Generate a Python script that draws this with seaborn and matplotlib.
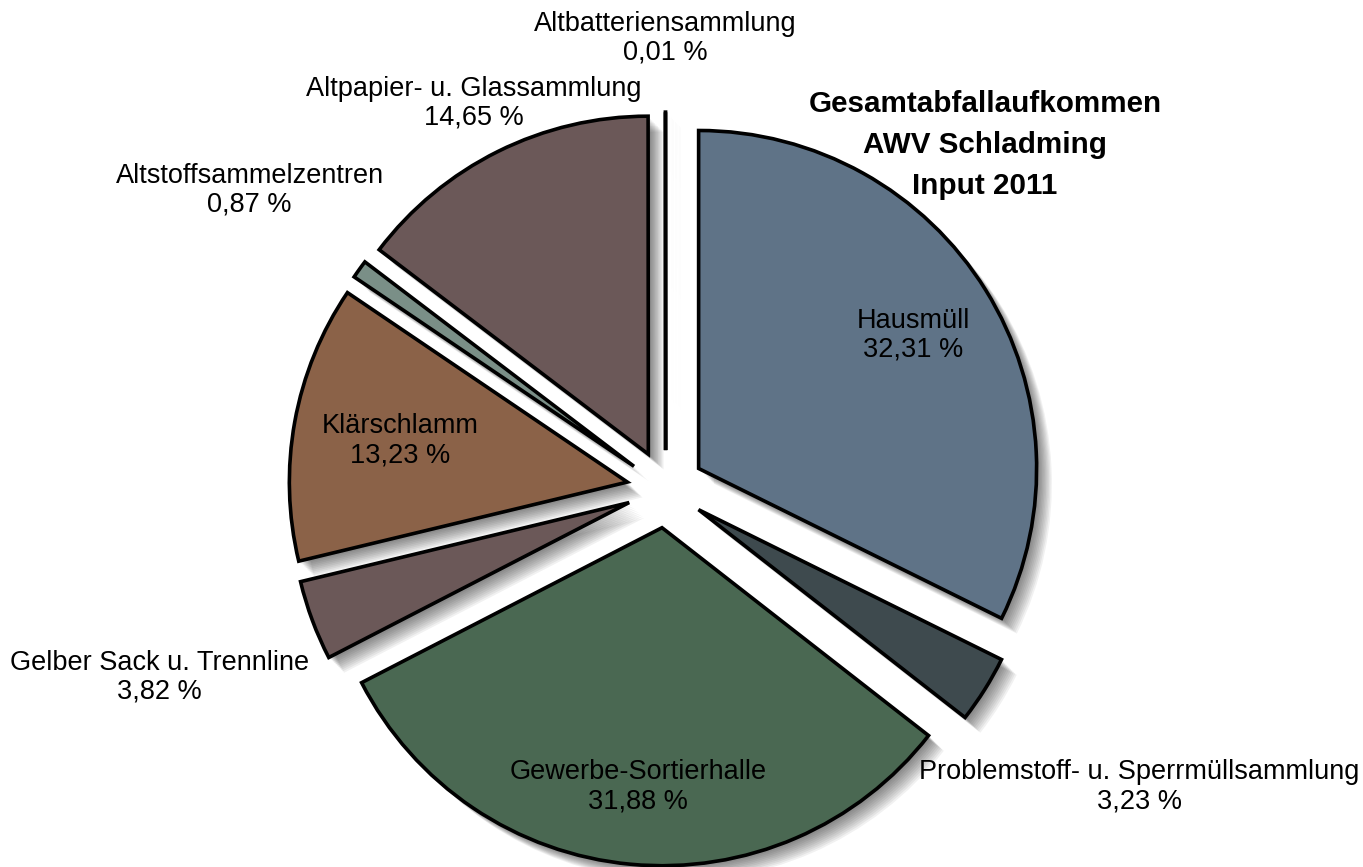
import numpy as np
import matplotlib
matplotlib.use("Agg")
import matplotlib.pyplot as plt
import matplotlib.patheffects as pe
import seaborn as sns

# ---- data ----
categories = ["Hausmüll", "Problemstoff- u. Sperrmüllsammlung", "Gewerbe-Sortierhalle",
              "Gelber Sack u. Trennline", "Klärschlamm", "Altstoffsammelzentren",
              "Altpapier- u. Glassammlung", "Altbatteriensammlung"]
values = [32.31, 3.23, 31.88, 3.82, 13.23, 0.87, 14.65, 0.01]
colors = ["#5f7387", "#3e4a4e", "#4a6852", "#6b5858", "#8b6248", "#7a8f87", "#6b5858", "#4a4a4a"]
title_lines = ["Gesamtabfallaufkommen", "AWV Schladming", "Input 2011"]

# ---- style / layout ----
label_radius = [0.863, 1.656, 0.884, 1.597, 0.799, 1.515, 1.274, 1.334]
explode_frac = 0.115

sns.set_theme(style="white")
plt.rcParams["font.family"] = ["Liberation Sans", "DejaVu Sans"]
plt.rcParams["text.color"] = "black"

fig = plt.figure(figsize=(13.63, 8.67), dpi=100)
ax = fig.add_axes([0, 0, 1, 1])

explode = [explode_frac] * len(values)

# soft shadow layer
shadow_effects = [pe.SimplePatchShadow(offset=(o, -o), shadow_rgbFace="black", alpha=0.055)
                  for o in (1, 2, 3, 4, 5, 6, 7, 8, 9, 10, 11)]
sw, _ = ax.pie(values, explode=explode, startangle=90, counterclock=False,
               colors=["none"] * len(values),
               wedgeprops=dict(linewidth=0))
for w in sw:
    w.set_path_effects(shadow_effects)

wedges, _ = ax.pie(values, explode=explode, startangle=90, counterclock=False,
                   colors=colors,
                   wedgeprops=dict(edgecolor="black", linewidth=2.6, joinstyle="miter"))

for w, cat, v, r in zip(wedges, categories, values, label_radius):
    ang = np.deg2rad((w.theta1 + w.theta2) / 2)
    pct = f"{v:.2f}".replace(".", ",")
    txt = f"{cat}\n{pct} %"
    ax.text(r * np.cos(ang), r * np.sin(ang), txt, ha="center", va="center",
            fontsize=19.5, linespacing=1.15, color="black")

R = 338.0
cx, cy = 665.6, 867 - 489.0
ax.set_xlim(-cx / R, (1363 - cx) / R)
ax.set_ylim(-cy / R, (867 - cy) / R)
ax.set_aspect("equal")
ax.axis("off")

fig.text(985 / 1363, 1 - 145 / 867, "\n".join(title_lines), ha="center", va="center",
         fontsize=21.3, fontweight="bold", linespacing=1.58, color="black")

fig.savefig("out.png", dpi=100)
